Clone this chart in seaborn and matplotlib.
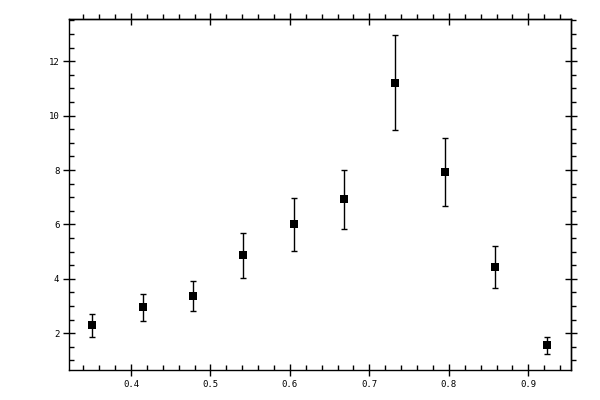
import numpy as np
import pandas as pd
import matplotlib
matplotlib.use("Agg")
import matplotlib.pyplot as plt
from matplotlib.ticker import MultipleLocator
import seaborn as sns

# data
x_vals = [0.351, 0.415, 0.478, 0.541, 0.605, 0.668, 0.732, 0.795, 0.858, 0.923]
y_vals = [2.29, 2.95, 3.36, 4.86, 6.00, 6.93, 11.21, 7.94, 4.42, 1.56]
y_err = [0.42, 0.50, 0.55, 0.83, 0.97, 1.08, 1.75, 1.25, 0.77, 0.31]

df = pd.DataFrame({"x": x_vals, "y": y_vals, "err": y_err})

sns.set_style("white")
plt.rcParams["font.family"] = ["DejaVu Sans Mono", "DejaVu Sans"]

fig = plt.figure(figsize=(6, 4), dpi=100)
ax = fig.add_axes([0.115, 0.075, 0.837, 0.8775])

ax.errorbar(df["x"], df["y"], yerr=df["err"], fmt="none", ecolor="black",
            elinewidth=1, capsize=2.5, capthick=1, zorder=2)
sns.scatterplot(data=df, x="x", y="y", marker="s", s=40, color="black",
                edgecolor="black", linewidth=0, ax=ax, zorder=3)

ax.set_xlim(0.322, 0.954)
ax.set_ylim(0.65, 13.55)
ax.set_xlabel("")
ax.set_ylabel("")

ax.xaxis.set_major_locator(MultipleLocator(0.1))
ax.xaxis.set_minor_locator(MultipleLocator(0.02))
ax.yaxis.set_major_locator(MultipleLocator(2))
ax.yaxis.set_minor_locator(MultipleLocator(0.5))
ax.xaxis.set_major_formatter(plt.FuncFormatter(lambda v, p: "%.1f" % v))
ax.yaxis.set_major_formatter(plt.FuncFormatter(lambda v, p: "%d" % round(v)))

for s in ax.spines.values():
    s.set_linewidth(1)
    s.set_color("black")

ax.tick_params(which="both", bottom=True, left=True, top=False, right=False)
ax.tick_params(which="major", direction="inout", length=8, width=1,
               labelsize=6.5, pad=3, colors="black")
ax.tick_params(which="minor", direction="in", length=3.5, width=1,
               colors="black")

# top and right ticks point outward
top = ax.secondary_xaxis("top")
right = ax.secondary_yaxis("right")
top.tick_params(which="both", top=True, bottom=False, labeltop=False)
right.tick_params(which="both", right=True, left=False, labelright=False)
for sec in (top, right):
    sec.tick_params(which="major", direction="inout", length=8, width=1,
                    colors="black")
    sec.tick_params(which="minor", direction="out", length=3.5, width=1,
                    colors="black")
    for s in sec.spines.values():
        s.set_linewidth(1)
top.xaxis.set_major_locator(MultipleLocator(0.1))
top.xaxis.set_minor_locator(MultipleLocator(0.02))
right.yaxis.set_major_locator(MultipleLocator(2))
right.yaxis.set_minor_locator(MultipleLocator(0.5))

fig.savefig("out.png", dpi=100)
